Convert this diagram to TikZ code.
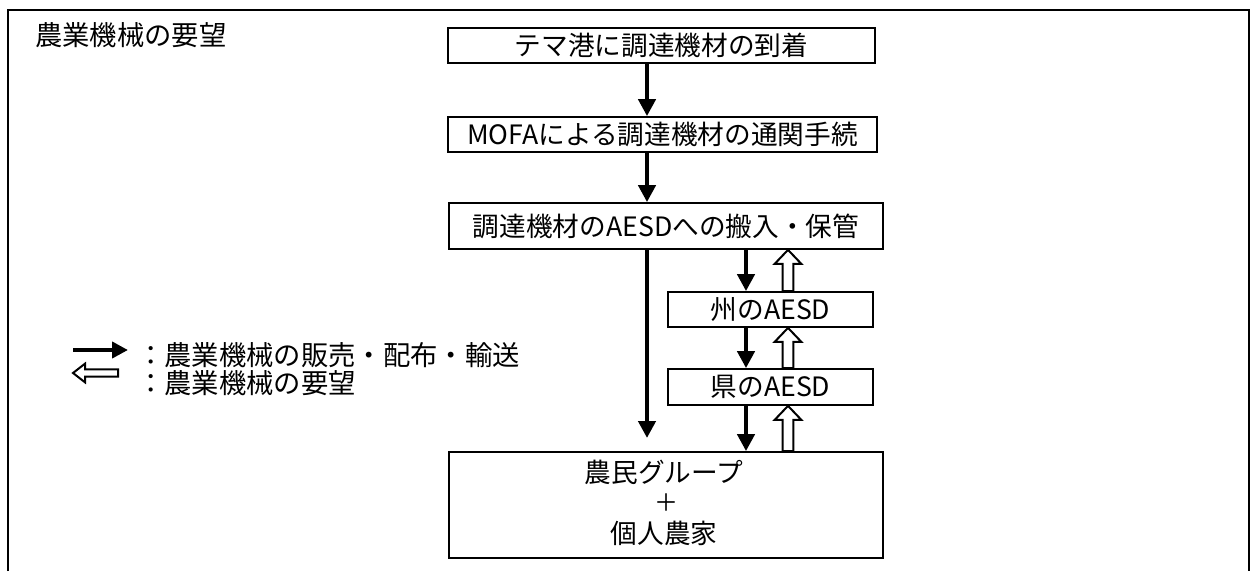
\documentclass[tikz,border=0pt]{standalone}
\usepackage{fontspec}
\setmainfont{Noto Sans CJK JP}
\usetikzlibrary{arrows.meta,calc}
\newcommand\hollowup[2]{%
  \draw[hollowline] let \p1=#1, \p2=#2 in
    (\x1-4.1pt,\y1) -- (\x1-4.1pt,\y2-10.5pt) -- (\x1-10pt,\y2-10.5pt) -- (\x1,\y2)
    -- (\x1+10pt,\y2-10.5pt) -- (\x1+4.1pt,\y2-10.5pt) -- (\x1+4.1pt,\y1) -- cycle;}
\newcommand\hollowleft[2]{%
  \draw[hollowline] let \p1=#1, \p2=#2 in
    (\x1,\y1-2.8pt) -- (\x2+9pt,\y1-2.8pt) -- (\x2+9pt,\y1-7pt) -- (\x2,\y1)
    -- (\x2+9pt,\y1+7pt) -- (\x2+9pt,\y1+2.8pt) -- (\x1,\y1+2.8pt) -- cycle;}
\begin{document}
\begin{tikzpicture}[x=0.75pt,y=-0.75pt,
  box/.style={draw,line width=1.3pt,inner sep=0pt,align=center,
    font=\fontsize{20pt}{23.5pt}\selectfont},
  fat/.style={line width=3.3pt,-{Triangle[width=12.75pt,length=12.75pt]}},
  hollowline/.style={draw,line width=1.5pt,fill=white,line join=miter},
  lbl/.style={inner sep=0pt,anchor=west,font=\fontsize{20.5pt}{24pt}\selectfont}]
\useasboundingbox (0,0) rectangle (1256,571);
\draw[line width=0.8pt] (8,571) -- (8,10) -- (1249,10) -- (1249,571);
\node[lbl] (title) at (35,35) {農業機械の要望};
% boxes
\node[box,minimum width=427*0.75pt,minimum height=35*0.75pt] (b1) at (661.5,45.5) {テマ港に調達機材の到着};
\node[box,minimum width=429*0.75pt,minimum height=35*0.75pt] (b2) at (662.5,134.5) {MOFAによる調達機材の通関手続};
\node[box,minimum width=434*0.75pt,minimum height=46*0.75pt] (b3) at (666,226) {調達機材のAESDへの搬入・保管};
\node[box,minimum width=205*0.75pt,minimum height=35*0.75pt] (s1) at (770.5,309.5) {州のAESD};
\node[box,minimum width=205*0.75pt,minimum height=36*0.75pt] (s2) at (770.5,387) {県のAESD};
\node[box,minimum width=434*0.75pt,minimum height=106*0.75pt] (b5) at (666,505) {};
\node[inner sep=0pt,font=\fontsize{20pt}{24pt}\selectfont] (t5a) at (664,472) {農民グループ};
\node[inner sep=0pt,font=\fontsize{18pt}{24pt}\selectfont] (t5b) at (666,503) {＋};
\node[inner sep=0pt,font=\fontsize{20pt}{24pt}\selectfont] (t5c) at (664,533) {個人農家};
% x positions
\coordinate (mx) at (647,0);
\coordinate (dx) at (746,0);
\coordinate (ux) at (788,0);
\coordinate (tipL) at (647,438);
% filled arrows
\draw[fat] (b1.south -| mx) -- (b2.north -| mx);
\draw[fat] (b2.south -| mx) -- (b3.north -| mx);
\draw[fat] (b3.south -| mx) -- (tipL);
\draw[fat] (b3.south -| dx) -- (s1.north -| dx);
\draw[fat] (s1.south -| dx) -- (s2.north -| dx);
\draw[fat] (s2.south -| dx) -- (b5.north -| dx);
% hollow arrows
\hollowup{(s1.north -| ux)}{(b3.south -| ux)}
\hollowup{(s2.north -| ux)}{(s1.south -| ux)}
\hollowup{(b5.north -| ux)}{(s2.south -| ux)}
% legend
\coordinate (la1) at (73,350);
\coordinate (la2) at (128,350);
\draw[line width=3.4pt,-{Triangle[width=12pt,length=12pt]}] (la1) -- (la2);
\node[lbl] (l1) at (137,355) {：農業機械の販売・配布・輸送};
\coordinate (lh1) at (118,373);
\coordinate (lh2) at (73,373);
\hollowleft{(lh1)}{(lh2)}
\node[lbl] (l2) at (137,383) {：農業機械の要望};
\end{tikzpicture}
\end{document}
